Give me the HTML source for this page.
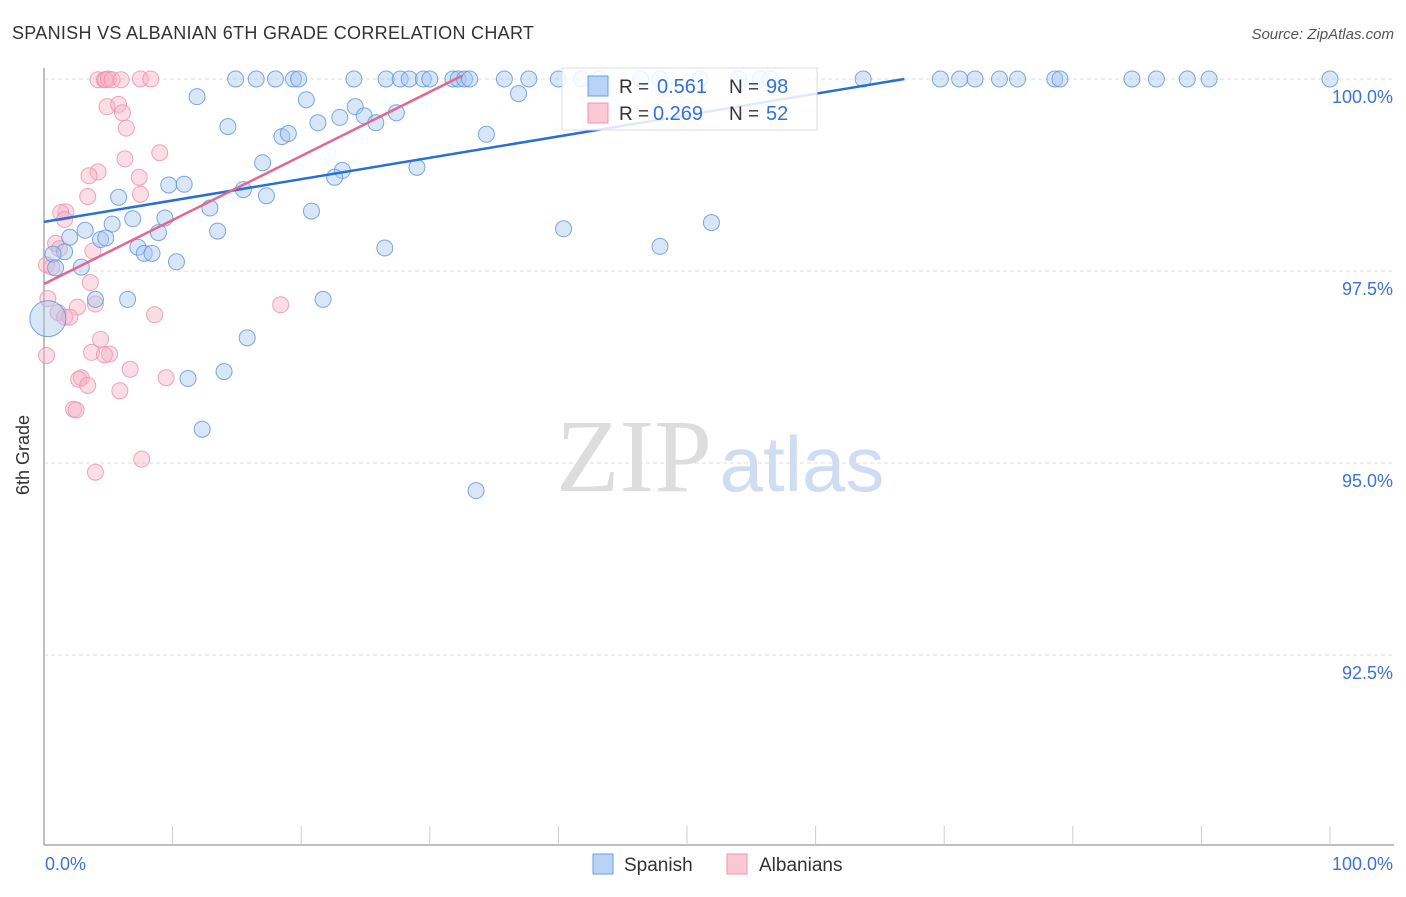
<!DOCTYPE html>
<html><head><meta charset="utf-8"><style>
body{margin:0;background:#fff;font-family:"Liberation Sans",sans-serif;}
svg text{font-family:"Liberation Sans",sans-serif;}
</style></head><body>
<svg id="chart" width="1406" height="892" xmlns="http://www.w3.org/2000/svg">
<text x="12" y="39" font-size="18" fill="#333" letter-spacing="0.3">SPANISH VS ALBANIAN 6TH GRADE CORRELATION CHART</text>
<text x="1394" y="39" font-size="15" fill="#555" text-anchor="end" font-style="italic">Source: ZipAtlas.com</text>
<g>
<text x="634" y="491" font-size="104" fill="#ddd" style="font-family:'Liberation Serif',serif" text-anchor="middle">ZIP</text>
<text x="802" y="491" font-size="78" fill="#cfdcf2" text-anchor="middle">atlas</text>
</g>
<g id="grid"></g>
<g id="axes"></g>
<g id="pts"></g>
<g id="trends"></g>
<text x="29" y="455" font-size="18" fill="#333" text-anchor="middle" transform="rotate(-90 29 455)">6th Grade</text>
<g>
<rect x="562" y="68" width="255" height="62" fill="#fff" fill-opacity="0.85" stroke="#ddd"/>
<rect x="588" y="76" width="20" height="20" fill="#b8d3f5" stroke="#6a9ee0"/>
<rect x="588" y="103" width="20" height="20" fill="#fbc8d6" stroke="#ee95ad"/>
<text x="619" y="93" font-size="19" fill="#333">R =</text>
<text x="657" y="93" font-size="20" fill="#3470d8">0.561</text>
<text x="729" y="93" font-size="19" fill="#333">N =</text>
<text x="766" y="93" font-size="20" fill="#3470d8">98</text>
<text x="619" y="120" font-size="19" fill="#333">R =</text>
<text x="653" y="120" font-size="20" fill="#3470d8">0.269</text>
<text x="729" y="120" font-size="19" fill="#333">N =</text>
<text x="766" y="120" font-size="20" fill="#3470d8">52</text>
</g>
<g>
<rect x="593" y="854" width="20" height="20" fill="#b8d3f5" stroke="#6a9ee0"/>
<text x="624" y="871" font-size="19" fill="#333">Spanish</text>
<rect x="727" y="854" width="20" height="20" fill="#fbc8d6" stroke="#ee95ad"/>
<text x="759" y="871" font-size="19" fill="#333">Albanians</text>
</g>
</svg>
<script>
const yTicks=[100,97.5,95,92.5];
const yTickLabels=["100.0%","97.5%","95.0%","92.5%"];
const xEnds=["0.0%","100.0%"];
const spanishTrend=[98.14,0.0278];
const albTrend=[97.33,0.0834];
const spanishX=[14.9,16.5,18,19.4,19.8,24.1,26.6,27.7,28.4,29.5,30,31.8,32.2,32.7,33.1,35.8,37.7,40,41.8,43.2,46.4,47.9,51,54,55.7,56.5,63.7,69.7,71.2,72.4,74.3,75.7,78.6,79,84.6,86.5,88.9,90.6,100,
 11.9,20.4,36.9,24.2,24.9,14.3,18.5,19,21.3,23,25.8,27.4,34.4,17,23.2,22.6,29,9.7,10.9,15.5,17.3,5.8,12.9,20.8,3.2,5.3,6.9,9.4,2,4.4,4.8,8.9,13.5,40.4,51.9,7.3,7.8,8.4,1.6,0.7,2.9,10.3,26.5,47.9,0.9,4,6.5,21.7,15.8,11.2,14,12.3,33.6,0.3];
const spanishY=[100,100,100,100,100,100,100,100,100,100,100,100,100,100,100,100,100,100,100,100,100,100,100,100,100,100,100,100,100,100,100,100,100,100,100,100,100,100,100,
 99.77,99.73,99.81,99.64,99.52,99.38,99.25,99.29,99.43,99.5,99.43,99.56,99.28,98.91,98.81,98.72,98.85,98.62,98.63,98.56,98.48,98.46,98.32,98.28,98.03,98.11,98.18,98.19,97.94,97.91,97.93,98,98.02,98.05,98.13,97.81,97.73,97.73,97.75,97.72,97.55,97.62,97.8,97.82,97.54,97.13,97.13,97.13,96.63,96.1,96.19,95.44,94.64,96.88];
const spanishR=Array(spanishX.length).fill(8);spanishR[spanishR.length-1]=18;
const albX=[4.2,4.7,4.8,5,5.3,6,7.5,8.3,4.9,5.8,6.1,6.4,9,6.3,4.2,3.5,7.4,7.5,3.4,1.7,1.3,1.6,0.9,1.2,3.8,0.2,0.6,3.6,0.3,2.6,4,1.1,1.6,2,8.6,18.4,4.4,3.7,5.1,4.7,0.2,6.7,2.9,2.7,9.5,3.4,5.9,2.3,2.5,4.0,7.6];
const albY=[99.99,99.99,99.99,100,99.99,99.99,100,100,99.64,99.67,99.56,99.36,99.04,98.96,98.79,98.74,98.72,98.5,98.47,98.27,98.26,98.17,97.86,97.79,97.76,97.58,97.55,97.35,97.14,97.03,97.07,96.96,96.9,96.9,96.93,97.06,96.61,96.44,96.42,96.41,96.4,96.22,96.11,96.09,96.11,96.01,95.94,95.7,95.69,94.88,95.05];
const X0=44,X1=1330,Y100=79,PX=76.8;
const sx=v=>X0+(X1-X0)*v/100, sy=v=>Y100+(100-v)*PX;
const NS="http://www.w3.org/2000/svg";
function mk(t,a,p){const e=document.createElementNS(NS,t);for(const k in a)e.setAttribute(k,a[k]);p.appendChild(e);return e;}
const grid=document.getElementById('grid'),axes=document.getElementById('axes'),pts=document.getElementById('pts'),tr=document.getElementById('trends');
yTicks.forEach((v,i)=>{
 const l=mk('line',{x1:44,x2:1394,y1:sy(v),y2:sy(v),stroke:'#ddd','stroke-dasharray':'4 3'},grid);
 
 
 const t=mk('text',{x:1393,y:sy(v)+24,'font-size':18,fill:'#3c72d6','text-anchor':'end'},axes);
 t.textContent=yTickLabels[i];
 
 
});
let a=mk('line',{x1:44,x2:44,y1:68,y2:845,stroke:'#aaa','stroke-width':1.5},axes);


a=mk('line',{x1:44,x2:1394,y1:845,y2:845,stroke:'#aaa','stroke-width':1.5},axes);


for(let i=1;i<=10;i++){const t=mk('line',{x1:sx(i*10),x2:sx(i*10),y1:826,y2:845,stroke:'#ccc'},axes);
 
 }
let t0=mk('text',{x:45,y:870,'font-size':18,fill:'#3c72d6'},axes);t0.textContent=xEnds[0];


let t1=mk('text',{x:1393,y:870,'font-size':18,fill:'#3c72d6','text-anchor':'end'},axes);t1.textContent=xEnds[1];


albX.forEach((x,i)=>{const c=mk('circle',{cx:sx(x),cy:sy(albY[i]),r:8,fill:'#f7b3c6','fill-opacity':0.45,stroke:'#ee8fab','stroke-opacity':0.8},pts);
 
 });
spanishX.forEach((x,i)=>{const c=mk('circle',{cx:sx(x),cy:sy(spanishY[i]),r:spanishR[i],fill:'#a9c8f0','fill-opacity':0.45,stroke:'#5b93dc','stroke-opacity':0.8},pts);
 
 });
function trendLine(tc,top,color,name){
 const xe=Math.min(100,(top-tc[0])/tc[1]);
 const l=mk('line',{x1:sx(0),y1:sy(tc[0]),x2:sx(xe),y2:sy(tc[0]+tc[1]*xe),stroke:color,'stroke-width':2.5},tr);
 
 
}
trendLine(spanishTrend,100,'#2a6fd6','spanish-trend-line');
trendLine(albTrend,100.04,'#e5668f','albanians-trend-line');
</script>
</body></html>
